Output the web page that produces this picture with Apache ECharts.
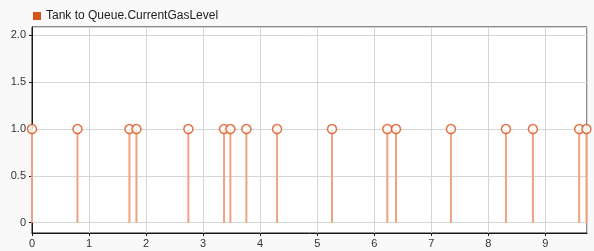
<!DOCTYPE html>
<html>
<head>
<meta charset="utf-8">
<script src="https://cdn.jsdelivr.net/npm/echarts@6/dist/echarts.min.js"></script>
<style>
html,body{margin:0;padding:0;background:#f9f9f9;}
#c{width:594px;height:251px;}
</style>
</head>
<body>
<div id="c"></div>
<script>
var seriesName = 'Tank to Queue.CurrentGasLevel';
var xValues = [0, 0.797, 1.708, 1.831, 2.742, 3.367, 3.478, 3.759, 4.296, 5.260, 6.229, 6.381, 7.345, 8.309, 8.782, 9.593, 9.72];
var yValues = [1, 1, 1, 1, 1, 1, 1, 1, 1, 1, 1, 1, 1, 1, 1, 1, 1];
var xMin = 0, xMax = 9.73;
var yMin = -0.11, yMax = 2.09;

var points = xValues.map(function (x, i) { return [x, yValues[i]]; });

var chart = echarts.init(document.getElementById('c'), null, {renderer: 'canvas'});
chart.setOption({
  animation: false,
  backgroundColor: '#f9f9f9',
  textStyle: {fontFamily: 'Arial, "Liberation Sans", sans-serif'},
  legend: {
    left: 28, top: 5,
    icon: 'rect', itemWidth: 8, itemHeight: 8, itemGap: 6,
    textStyle: {fontSize: 12, color: '#222', fontFamily: 'Arial, "Liberation Sans", sans-serif'},
    data: [{name: seriesName, itemStyle: {color: '#D95319', borderColor: '#D95319', borderWidth: 0, opacity: 1}}]
  },
  grid: {
    left: 32, right: 7, top: 27, bottom: 18,
    show: true, backgroundColor: '#ffffff', borderColor: '#1a1a1a', borderWidth: 1
  },
  xAxis: {
    type: 'value', min: xMin, max: xMax, interval: 1,
    axisLine: {show: true, onZero: false, lineStyle: {color: '#1a1a1a', width: 1}},
    axisTick: {show: true, length: 3, lineStyle: {color: '#1a1a1a'}},
    axisLabel: {fontSize: 11, color: '#333', margin: 5, showMaxLabel: false},
    splitLine: {show: true, lineStyle: {color: '#d6d6d6', width: 1}}
  },
  yAxis: {
    type: 'value', min: yMin, max: yMax, splitNumber: 5,
    axisLine: {show: true, onZero: false, lineStyle: {color: '#1a1a1a', width: 1}},
    axisTick: {show: true, length: 3, lineStyle: {color: '#1a1a1a'}},
    axisLabel: {fontSize: 11, color: '#333', margin: 6,
      formatter: function (v) { return Math.abs(v) < 1e-9 ? '0' : v.toFixed(1); }},
    splitLine: {show: true, lineStyle: {color: '#d6d6d6', width: 1}}
  },
  series: [
    {
      name: seriesName + ' stems',
      type: 'custom',
      silent: true,
      data: points,
      renderItem: function (params, api) {
        var x = api.value(0), y = api.value(1);
        var p0 = api.coord([x, 0]);
        var p1 = api.coord([x, y]);
        return {
          type: 'line',
          shape: {x1: p0[0], y1: p0[1], x2: p1[0], y2: p1[1]},
          style: {stroke: '#EFA27E', lineWidth: 2}
        };
      },
      z: 2
    },
    {
      name: seriesName,
      type: 'scatter',
      data: points,
      symbol: 'circle',
      symbolSize: 9,
      itemStyle: {color: '#ffffff', borderColor: '#D95319', borderWidth: 1.5},
      z: 3
    }
  ]
});
</script>
</body>
</html>
